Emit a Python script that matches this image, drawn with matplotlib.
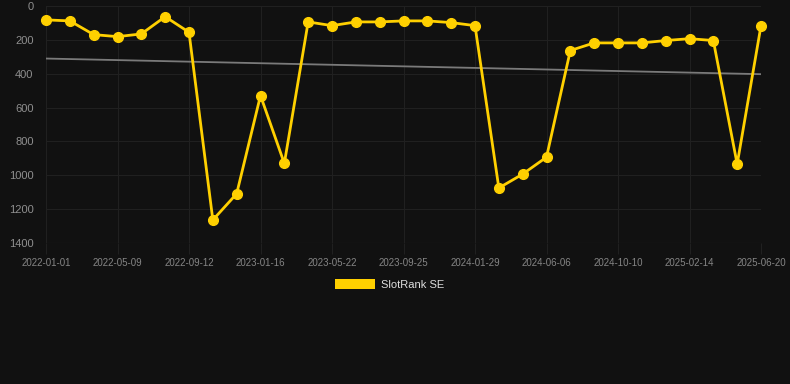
import matplotlib
matplotlib.use("Agg")
import matplotlib.pyplot as plt
from matplotlib.patches import Patch
import numpy as np

plt.rcParams['font.family'] = ['Liberation Sans', 'DejaVu Sans']

# Rank values (lower is better), one point every ~42 days
ranks = [82, 88, 169, 181, 165, 63, 155, 1264, 1109, 529, 930,
         94, 116, 94, 94, 88, 88, 98, 116, 1075, 993, 893,
         263, 218, 218, 218, 204, 193, 204, 934, 116]
tick_labels = ["2022-01-01", "2022-05-09", "2022-09-12", "2023-01-16",
               "2023-05-22", "2023-09-25", "2024-01-29", "2024-06-06",
               "2024-10-10", "2025-02-14", "2025-06-20"]
y_ticks = [0, 200, 400, 600, 800, 1000, 1200, 1400]
series_name = "SlotRank SE"

x = np.arange(len(ranks))
coef = np.polyfit(x, ranks, 1)
trend = np.polyval(coef, x)

bg = "#111111"
grid_c = "#202020"
fig = plt.figure(figsize=(7.9, 3.84), dpi=100, facecolor=bg)
ax = fig.add_axes([46/790, 1-243/384, (761-46)/790, (243-6)/384])
ax.set_facecolor(bg)

ax.plot(x, trend, color="#7a7a7a", lw=1.3, zorder=2)
ax.plot(x, ranks, color="#FFD000", lw=2.0, marker="o", markersize=7,
        zorder=3, clip_on=False)

ax.set_xlim(0, len(ranks)-1)
ax.set_ylim(1400, 0)
ax.set_yticks(y_ticks)
ax.set_yticklabels([str(v) for v in y_ticks], fontsize=8, color="#8f8f8f")
ax.set_xticks(x[::3])
ax.set_xticklabels(tick_labels, fontsize=7, color="#858585")
ax.tick_params(axis='x', length=8, width=0.8, color=grid_c, pad=3)
ax.tick_params(axis='y', length=0, pad=9)
ax.grid(True, color=grid_c, lw=0.8)
for s in ax.spines.values():
    s.set_visible(False)
ax.axhline(1400, color="#2c2c2c", lw=0.8)

handle = Patch(facecolor="#FFD000", edgecolor="none", label=series_name)
leg = fig.legend(handles=[handle], loc="center", bbox_to_anchor=(0.493, 0.26),
                 frameon=False, fontsize=8, handlelength=3.6, handleheight=1.1,
                 handletextpad=0.6, labelcolor="#dddddd")

fig.savefig("out.png", dpi=100, facecolor=bg)
